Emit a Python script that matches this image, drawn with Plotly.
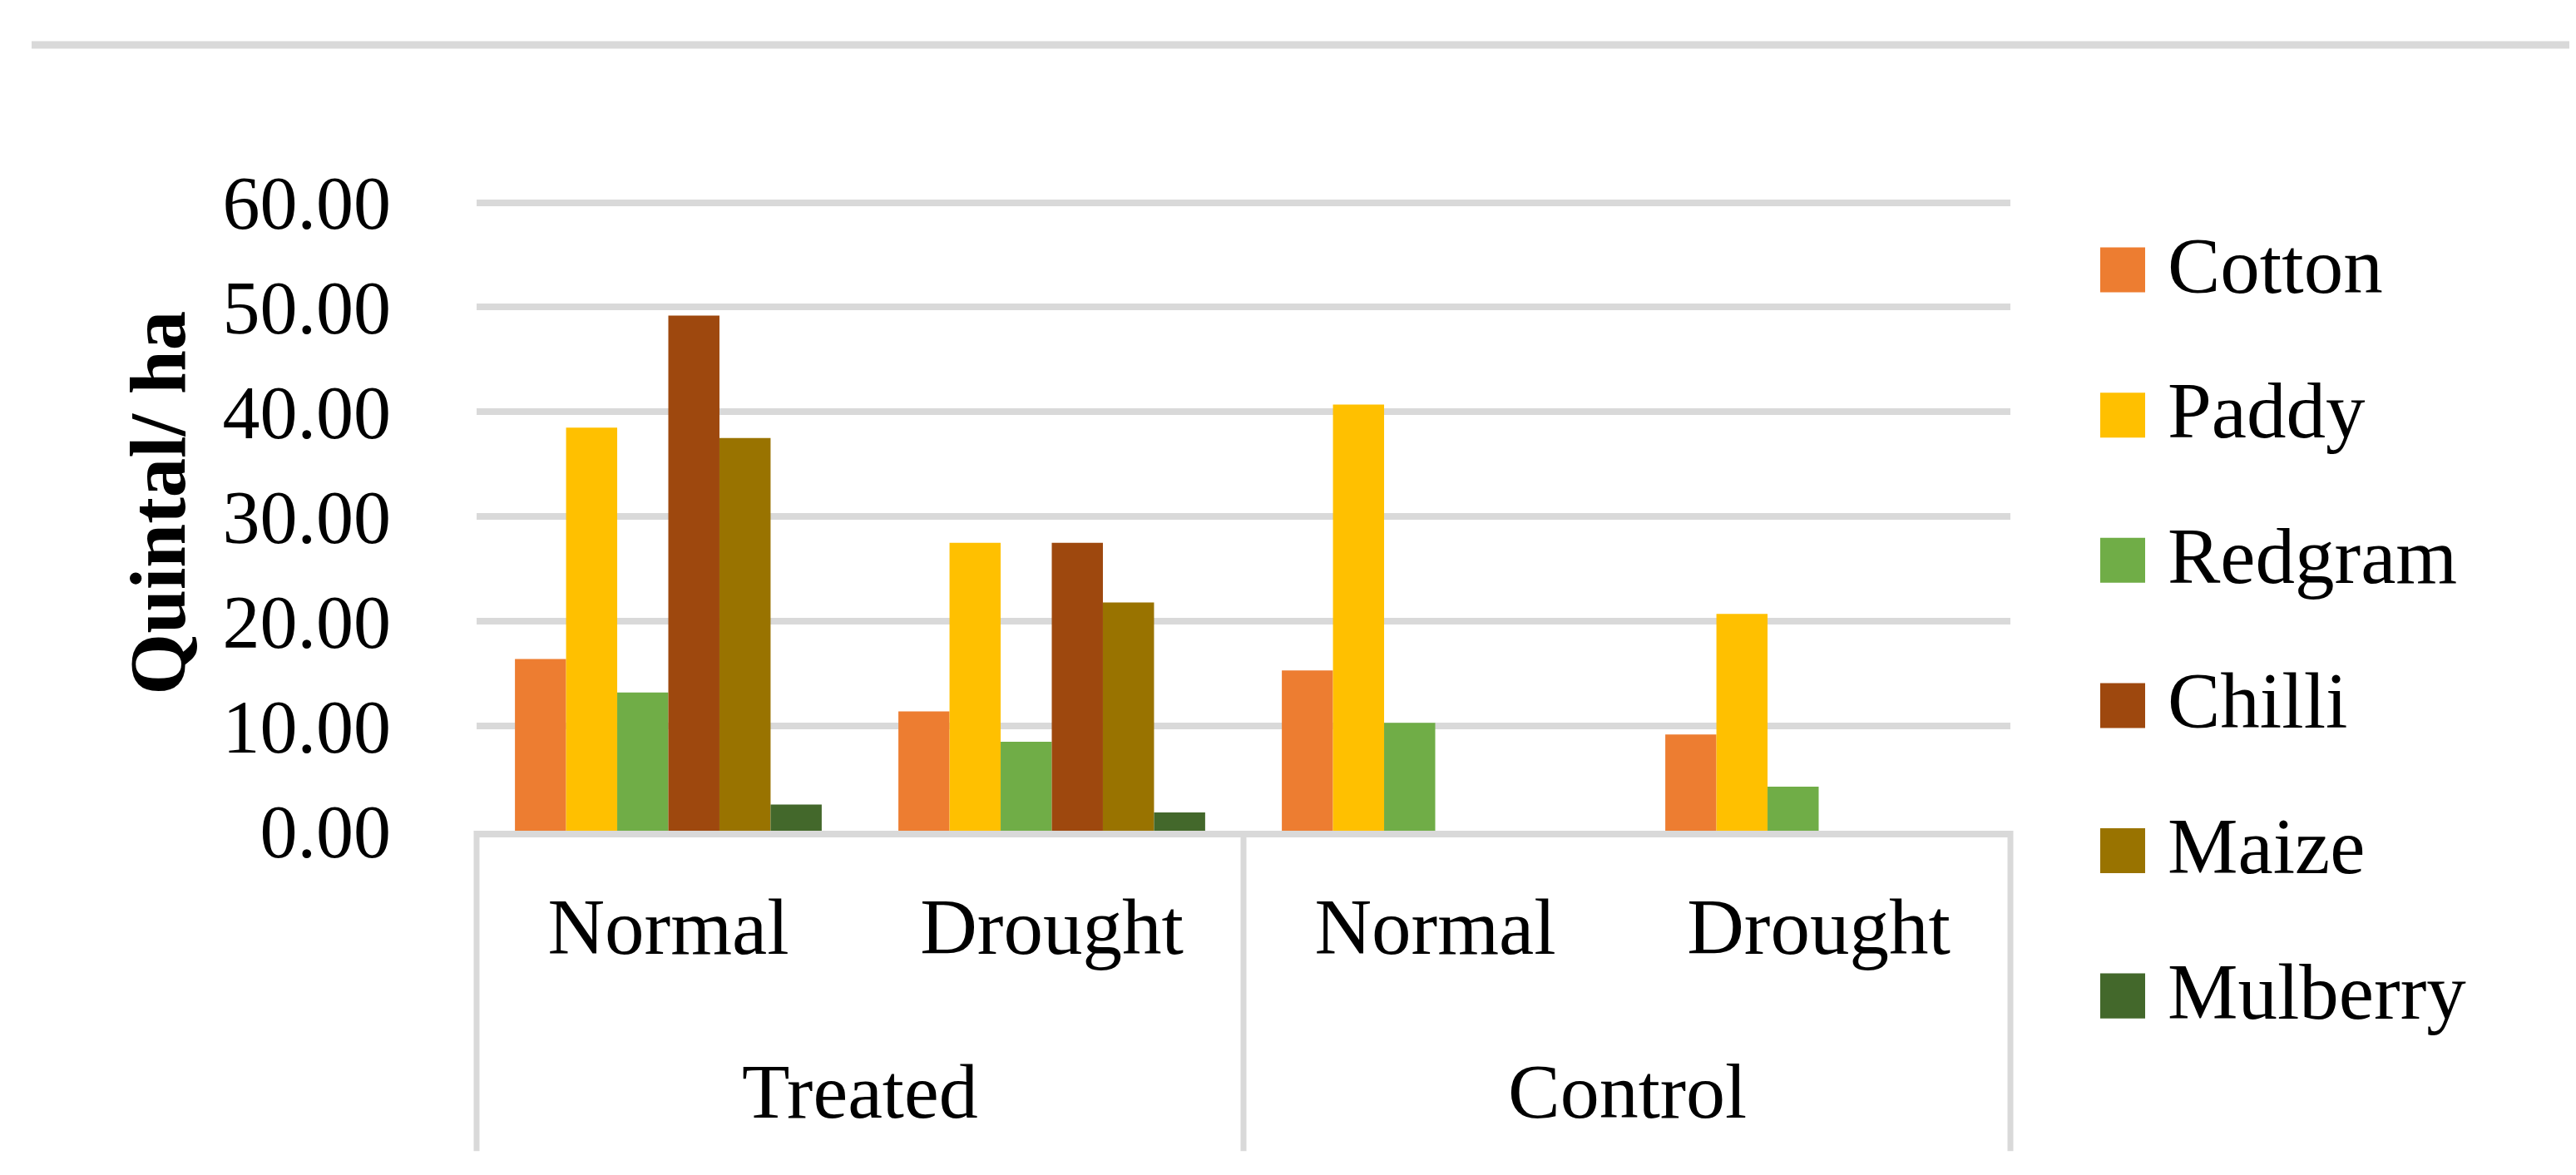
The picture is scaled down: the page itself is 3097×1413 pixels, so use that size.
import plotly.graph_objects as go

# ---------------- data ----------------
groups = ["Treated", "Control"]
conditions = ["Normal", "Drought", "Normal", "Drought"]
crops = ["Cotton", "Paddy", "Redgram", "Chilli", "Maize", "Mulberry"]
cotton = [16.4, 11.4, 15.3, 9.2]
paddy = [38.5, 27.5, 40.7, 20.7]
redgram = [13.2, 8.5, 10.3, 4.2]
chilli = [49.2, 27.5, None, None]
maize = [37.5, 21.8, None, None]
mulberry = [2.5, 1.75, None, None]
series = [cotton, paddy, redgram, chilli, maize, mulberry]
colors = ["#ED7D31", "#FFC000", "#70AD47", "#9E480E", "#997300", "#43682B"]
y_tick_vals = [0, 10, 20, 30, 40, 50, 60]
y_tick_text = ["0.00", "10.00", "20.00", "30.00", "40.00", "50.00", "60.00"]
y_title = "Quintal/ ha"

# ---------------- layout geometry (pixels) ----------------
W, H = 3097, 1413
L, R = 565, 2409          # plot area left / right
B = 991                   # y = 0
Y60 = 236                 # y = 60
YMAX = 60.2
T = B - YMAX * (B - Y60) / 60.0

def px2x(px):
    return (px - L) / (R - L)

def py2y(py):
    return (B - py) / (B - T)

FONT = "Liberation Serif"
GRID = "#D9D9D9"

fig = go.Figure()
xpos = list(range(len(conditions)))
for name, vals, col in zip(crops, series, colors):
    fig.add_trace(go.Bar(
        x=xpos, y=vals, name=name,
        marker=dict(color=col, line=dict(width=0)),
        showlegend=False,
    ))

shapes = []
annotations = []

# header rule at the top of the figure
shapes.append(dict(type="line", xref="paper", yref="paper",
                   x0=px2x(30), x1=px2x(3097), y0=py2y(46.5), y1=py2y(46.5),
                   line=dict(color=GRID, width=9)))

# category dividers under the axis
for px in [L, (L + R) / 2, R]:
    shapes.append(dict(type="line", xref="paper", yref="paper",
                       x0=px2x(px), x1=px2x(px), y0=py2y(B), y1=py2y(1376),
                       line=dict(color=GRID, width=7)))

# group labels
for i, g in enumerate(groups):
    annotations.append(dict(text=g, xref="x", yref="paper",
                            x=2 * i + 0.5, y=py2y(1304),
                            xanchor="center", yanchor="middle", showarrow=False,
                            font=dict(family=FONT, size=94, color="black")))

# y-axis title
annotations.append(dict(text="<b>" + y_title + "</b>", xref="paper", yref="paper",
                        x=px2x(182), y=py2y(597), textangle=-90,
                        xanchor="center", yanchor="middle", showarrow=False,
                        font=dict(family=FONT, size=95, color="black")))

# legend (built from crops / colors)
for i, (name, col) in enumerate(zip(crops, colors)):
    cy = 317 + i * 174.5
    shapes.append(dict(type="rect", xref="paper", yref="paper",
                       x0=px2x(2517), x1=px2x(2571),
                       y0=py2y(cy - 27), y1=py2y(cy + 27),
                       fillcolor=col, line=dict(width=0)))
    annotations.append(dict(text=name, xref="paper", yref="paper",
                            x=px2x(2596), y=py2y(cy - 5),
                            xanchor="left", yanchor="middle", showarrow=False,
                            font=dict(family=FONT, size=95, color="black")))

fig.update_layout(
    width=W, height=H,
    margin=dict(l=L, r=W - R, t=T, b=H - B, autoexpand=False),
    paper_bgcolor="white", plot_bgcolor="white",
    barmode="group", bargap=0.2, bargroupgap=0,
    showlegend=False,
    shapes=shapes, annotations=annotations,
    font=dict(family=FONT, color="black"),
)
fig.update_xaxes(
    range=[-0.5, 3.5], tickmode="array", tickvals=xpos, ticktext=conditions,
    showgrid=False, zeroline=False, ticks="",
    showline=True, linecolor=GRID, linewidth=8,
    tickfont=dict(family=FONT, size=95, color="black"),
    ticklabelstandoff=26,
)
fig.update_yaxes(
    range=[0, YMAX], tickmode="array", tickvals=y_tick_vals, ticktext=y_tick_text,
    showgrid=True, gridcolor=GRID, gridwidth=8,
    zeroline=False, showline=False, ticks="",
    tickfont=dict(family=FONT, size=90, color="black"),
    ticklabelstandoff=102,
)

fig.write_html("out.html")
